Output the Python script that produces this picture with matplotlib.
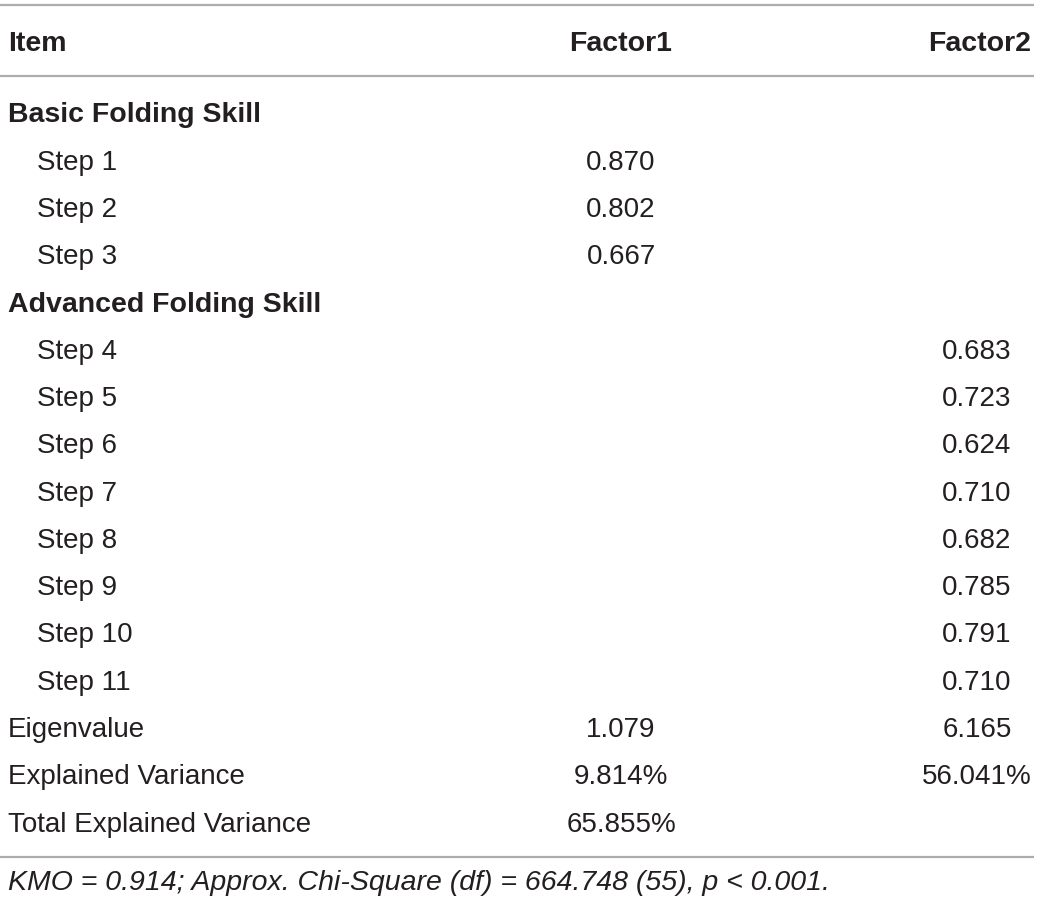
import matplotlib.pyplot as plt

# table content
headers = ["Item", "Factor1", "Factor2"]
groups = ["Basic Folding Skill", "Advanced Folding Skill"]
basic_items = ["Step 1", "Step 2", "Step 3"]
basic_f1 = ["0.870", "0.802", "0.667"]
adv_items = ["Step 4", "Step 5", "Step 6", "Step 7", "Step 8", "Step 9", "Step 10", "Step 11"]
adv_f2 = ["0.683", "0.723", "0.624", "0.710", "0.682", "0.785", "0.791", "0.710"]
summary_labels = ["Eigenvalue", "Explained Variance", "Total Explained Variance"]
summary_f1 = ["1.079", "9.814%", "65.855%"]
summary_f2 = ["6.165", "56.041%", ""]
note = "KMO = 0.914; Approx. Chi-Square (df) = 664.748 (55), p < 0.001."

plt.rcParams['font.family'] = ['Liberation Sans', 'DejaVu Sans']
txt = '#231f20'
line_c = '#adadad'

fig = plt.figure(figsize=(10.4, 9.06), dpi=100)
ax = fig.add_axes([0, 0, 1, 1])
ax.set_xlim(0, 1040)
ax.set_ylim(906, 0)
ax.axis('off')

x_item, x_indent, x_f1, x_f2 = 8, 37, 621, 977
fs = 20
fs_bold = 20.5
row_h = 47.27

# rules
for y in (5, 76, 857):
    ax.plot([0, 1034], [y, y], color=line_c, lw=1.6, solid_capstyle='butt')

# header (baseline positions)
hy = 51
ax.text(x_item, hy, headers[0], fontsize=fs_bold, fontweight='bold', color=txt, va='baseline', ha='left')
ax.text(x_f1, hy, headers[1], fontsize=fs_bold, fontweight='bold', color=txt, va='baseline', ha='center')
ax.text(1031, hy, headers[2], fontsize=fs_bold, fontweight='bold', color=txt, va='baseline', ha='right')

# build rows: (label, indent, bold, f1, f2)
rows = [(groups[0], False, True, "", "")]
rows += [(n, True, False, v, "") for n, v in zip(basic_items, basic_f1)]
rows += [(groups[1], False, True, "", "")]
rows += [(n, True, False, "", v) for n, v in zip(adv_items, adv_f2)]
rows += [(n, False, False, a, b) for n, a, b in zip(summary_labels, summary_f1, summary_f2)]

y0 = 122.5
for i, (lab, ind, bold, a, b) in enumerate(rows):
    y = y0 + i * row_h
    ax.text(x_indent if ind else x_item, y, lab, fontsize=fs_bold if bold else fs, color=txt,
            va='baseline', ha='left', fontweight='bold' if bold else 'normal')
    if a:
        ax.text(x_f1, y, a, fontsize=fs, color=txt, va='baseline', ha='center')
    if b:
        ax.text(x_f2, y, b, fontsize=fs, color=txt, va='baseline', ha='center')

ax.text(x_item, 890, note, fontsize=20.5, style='italic', color=txt, va='baseline', ha='left')

fig.savefig('out.png', dpi=100)
